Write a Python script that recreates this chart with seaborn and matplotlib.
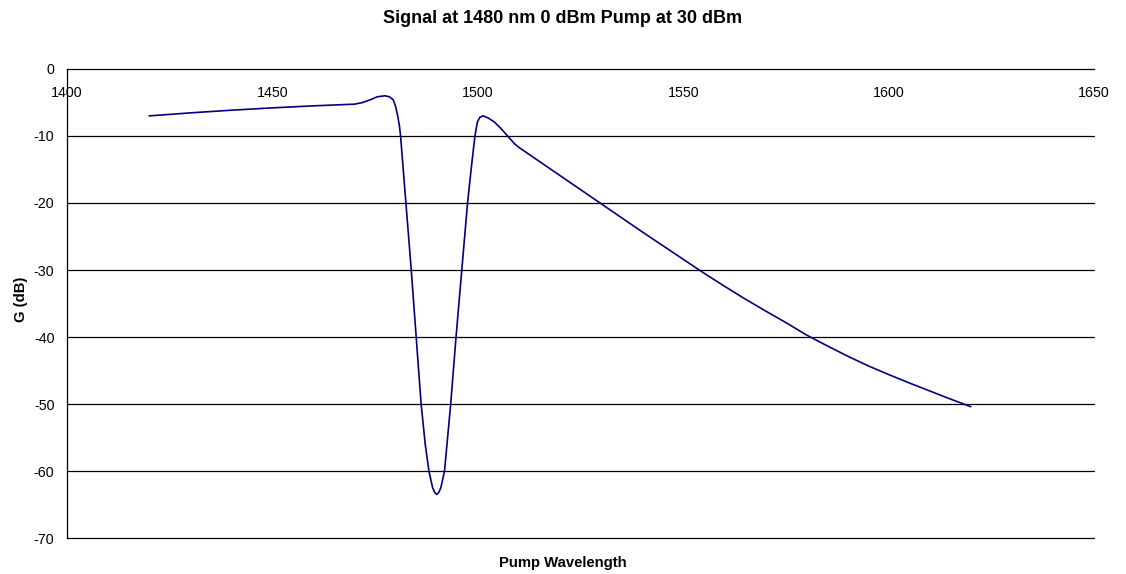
import matplotlib
matplotlib.use("Agg")
import matplotlib.pyplot as plt
import seaborn as sns
import pandas as pd

# Pump wavelength (nm) and signal gain (dB)
wavelength = [1420, 1430, 1440, 1450, 1460, 1470, 1472, 1474, 1475.5, 1477.4, 1478.5,
              1479.4, 1480, 1480.5, 1480.9, 1481.2, 1482.5, 1483.8, 1485.0, 1486.2,
              1487.2, 1488.1, 1489, 1489.5, 1490, 1490.5, 1491, 1491.9, 1493.4, 1494.7,
              1496.1, 1497.5, 1498.5, 1499.3, 1499.9, 1500.5, 1501.3, 1502.5, 1504,
              1505.5, 1507.4, 1509, 1510, 1515, 1520, 1525, 1530, 1535, 1540, 1545,
              1550, 1555, 1560, 1565, 1570, 1575, 1580, 1585, 1590, 1595, 1600, 1605,
              1610, 1615, 1620]
gain_db = [-7.0, -6.55, -6.15, -5.8, -5.5, -5.25, -5.0, -4.55, -4.15, -4.0, -4.15,
           -4.6, -5.6, -7.0, -8.4, -10.0, -20.0, -30.0, -40.0, -50.0,
           -56.0, -60.0, -62.5, -63.2, -63.5, -63.2, -62.5, -60.0, -50.0, -40.0,
           -30.0, -20.0, -14.3, -10.0, -7.9, -7.2, -7.0, -7.3, -7.9,
           -8.8, -10.1, -11.2, -11.7, -13.8, -15.9, -18.0, -20.1, -22.2, -24.3, -26.35,
           -28.4, -30.45, -32.4, -34.3, -36.1, -37.85, -39.7, -41.3, -42.85, -44.3, -45.6,
           -46.85, -48.05, -49.25, -50.4]

x_ticks = [1400, 1450, 1500, 1550, 1600, 1650]
y_ticks = [0, -10, -20, -30, -40, -50, -60, -70]

df = pd.DataFrame({"wavelength": wavelength, "gain": gain_db})

sns.set_style("white")
plt.rcParams["font.family"] = ["Liberation Sans", "DejaVu Sans"]
plt.rcParams["axes.unicode_minus"] = False
plt.rcParams["text.color"] = "#000000"

fig = plt.figure(figsize=(11.26, 5.74), dpi=100)
ax = fig.add_axes([0.0595, 0.0627, 0.9121, 0.8171])

sns.lineplot(data=df, x="wavelength", y="gain", ax=ax, color="#000080",
             linewidth=1.2, sort=False, estimator=None)

ax.set_xlim(1400, 1650)
ax.set_ylim(-70, 0)
ax.set_xticks(x_ticks)
ax.set_yticks(y_ticks)

# horizontal gridlines
for yv in y_ticks[1:]:
    ax.axhline(yv, color="#000000", linewidth=0.9, zorder=0, clip_on=False)

for side in ("top", "right"):
    ax.spines[side].set_visible(False)
ax.spines["bottom"].set_position(("data", 0))
for side in ("bottom", "left"):
    ax.spines[side].set_color("#000000")
    ax.spines[side].set_linewidth(0.9)

ax.tick_params(axis="x", direction="out", length=4, width=0.9, pad=8,
               labelsize=10.3, colors="#000000")
ax.tick_params(axis="y", direction="out", length=4, width=0.9, pad=5,
               labelsize=10.3, colors="#000000")

ax.set_xlabel("")
ax.set_ylabel("")
fig.text(0.5, 0.019, "Pump Wavelength", ha="center", va="center",
         fontsize=10.7, fontweight="bold", color="#000000")
fig.text(21 / 1126, 0.478, "G (dB)", ha="center", va="center", rotation=90,
         fontsize=10.7, fontweight="bold", color="#000000")
fig.text(0.5, 0.967, "Signal at 1480 nm 0 dBm Pump at 30 dBm",
         ha="center", va="center", fontsize=13, fontweight="bold", color="#000000")

fig.savefig("out.png", dpi=100)
